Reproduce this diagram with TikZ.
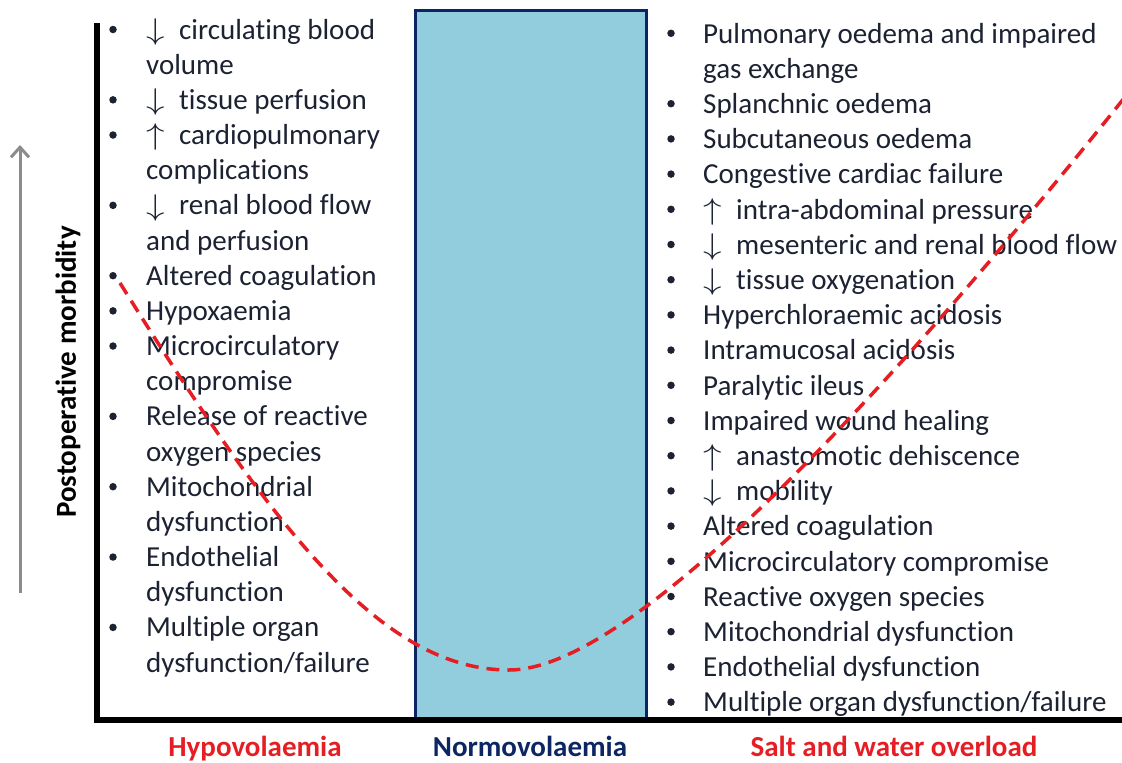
\documentclass[tikz,border=0pt]{standalone}
\usepackage{graphicx}
\usepackage{fontspec}
\setmainfont{Carlito}[Ligatures=NoCommon]
\usetikzlibrary{arrows.meta}
\definecolor{txt}{RGB}{28,34,50}
\definecolor{redl}{RGB}{230,30,36}
\definecolor{navy}{RGB}{12,38,100}
\definecolor{boxfill}{RGB}{146,205,221}
\definecolor{arrgray}{RGB}{140,140,140}
\newcommand{\myarr}[1]{\makebox[33pt][l]{\smash{\fontsize{10}{12}\selectfont\raisebox{-0.3pt}{\scalebox{3.7}[3.0]{$#1$}}}}}
\newcommand{\dnar}{\myarr{\downarrow}}
\newcommand{\upar}{\myarr{\uparrow}}
\begin{document}
\begin{tikzpicture}[x=1pt,y=-1pt,
  item/.style={anchor=base west, inner sep=0pt, text=txt, font=\fontsize{29}{35}\selectfont},
  bul/.style={circle, fill=txt, inner sep=0pt, minimum size=7.5pt},
  lab/.style={anchor=base, inner sep=0pt, font=\fontsize{29}{35}\selectfont\bfseries},
  axis/.style={line width=6pt, black, line join=miter},
  curve/.style={redl, line width=3.5pt, dash pattern=on 13pt off 8pt}]
\clip (0,0) rectangle (1122,763);
\fill[white] (0,0) rectangle (1122,763);
% normovolaemia band
\node[draw=navy, line width=3pt, fill=boxfill, minimum width=231pt, minimum height=709pt,
      anchor=north west, inner sep=0pt] (normbox) at (414,9) {};
% axes
\coordinate (ytop) at (97,23);
\coordinate (orig) at (97,720);
\coordinate (xend) at (1126,720);
\draw[axis] (ytop) -- (orig) -- (xend);
% grey morbidity arrow
\coordinate (ga0) at (20,593);
\coordinate (ga1) at (20,145);
\draw[arrgray, line width=3pt, -{Straight Barb[length=10pt,width=18pt]}] (ga0) -- (ga1);
\node[rotate=90, inner sep=0pt, text=black, font=\fontsize{29}{35}\selectfont\bfseries] (ylab) at (68,372) {Postoperative morbidity};
% left list
\foreach \t [count=\i] in {{\dnar circulating blood},{volume},{\dnar tissue perfusion},
  {\upar cardiopulmonary},{complications},{\dnar renal blood flow},{and perfusion},
  {Altered coagulation},{Hypoxaemia},{Microcirculatory},{compromise},
  {Release of reactive},{oxygen species},{Mitochondrial},{dysfunction},
  {Endothelial},{dysfunction},{Multiple organ},{dysfunction/failure}}{
  \node[item] (L\i) at (146,{39+35.17*(\i-1)}) {\t};
}
\foreach \i in {1,3,4,6,8,9,10,12,14,16,18}{
  \node[bul] (LB\i) at (113,{29.5+35.17*(\i-1)}) {};
}
% right list
\foreach \t [count=\i] in {{Pulmonary oedema and impaired},{gas exchange},{Splanchnic oedema},
  {Subcutaneous oedema},{Congestive cardiac failure},{\upar intra-abdominal pressure},
  {\dnar mesenteric and renal blood flow},{\dnar tissue oxygenation},
  {Hyperchloraemic acidosis},{Intramucosal acidosis},{Paralytic ileus},
  {Impaired wound healing},{\upar anastomotic dehiscence},{\dnar mobility},
  {Altered coagulation},{Microcirculatory compromise},{Reactive oxygen species},
  {Mitochondrial dysfunction},{Endothelial dysfunction},{Multiple organ dysfunction/failure}}{
  \node[item] (R\i) at (703,{43+35.2*(\i-1)}) {\t};
}
\foreach \i in {1,3,4,5,6,7,8,9,10,11,12,13,14,15,16,17,18,19,20}{
  \node[bul] (RB\i) at (671,{33.3+35.2*(\i-1)}) {};
}
% bottom labels
\node[lab, text=redl] (hypo) at (255,756) {Hypovolaemia};
\node[lab, text=navy] (normo) at (530,756) {Normovolaemia};
\node[lab, text=redl] (over) at (894,756) {Salt and water overload};
% U-shaped morbidity curve
\coordinate (c0) at (120,283);
\coordinate (cmin) at (509,670);
\coordinate (c1) at (1125,97);
\draw[curve] (c0) .. controls (270,523) and (379,670) .. (cmin)
             .. controls (629,670) and (875,409.5) .. (c1);
\end{tikzpicture}
\end{document}
